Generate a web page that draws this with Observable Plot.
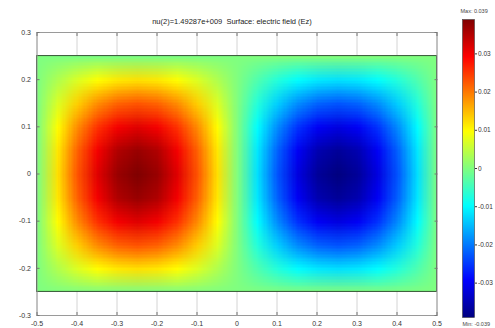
<!DOCTYPE html>
<html>
<head>
<meta charset="utf-8">
<script src="https://cdn.jsdelivr.net/npm/d3@7"></script>
<script src="https://cdn.jsdelivr.net/npm/@observablehq/plot@0.6"></script>
<style>
  html, body { margin: 0; padding: 0; background: #fff; }
  #chart { position: relative; width: 495px; height: 328px; overflow: hidden; font-family: "Liberation Sans", Arial, sans-serif; }
  #chart svg { position: absolute; top: 0; overflow: visible; }
</style>
</head>
<body>
<div id="chart"></div>
<script>
// Title of the plot
const titleText = "nu(2)=1.49287e+009  Surface: electric field (Ez)";

// Sample positions of the Ez field (nodes of the grid)
const xNodes = [-0.5, -0.45, -0.4, -0.35, -0.3, -0.25, -0.2, -0.15, -0.1, -0.05, 0,
                0.05, 0.1, 0.15, 0.2, 0.25, 0.3, 0.35, 0.4, 0.45, 0.5];
const yNodes = [0.25, 0.2, 0.15, 0.1, 0.05, 0, -0.05, -0.1, -0.15, -0.2, -0.25];

// Ez values, one row per yNode (top to bottom), one column per xNode
const ezRows = [
  [0, 0, 0, 0, 0, 0, 0, 0, 0, 0, 0, 0, 0, 0, 0, 0, 0, 0, 0, 0, 0],
  [0, 0.0037, 0.0071, 0.0098, 0.0115, 0.0121, 0.0115, 0.0098, 0.0071, 0.0037, 0, -0.0037, -0.0071, -0.0098, -0.0115, -0.0121, -0.0115, -0.0098, -0.0071, -0.0037, 0],
  [0, 0.0071, 0.0135, 0.0186, 0.0218, 0.0229, 0.0218, 0.0186, 0.0135, 0.0071, 0, -0.0071, -0.0135, -0.0186, -0.0218, -0.0229, -0.0218, -0.0186, -0.0135, -0.0071, 0],
  [0, 0.0098, 0.0186, 0.0255, 0.0300, 0.0316, 0.0300, 0.0255, 0.0186, 0.0098, 0, -0.0098, -0.0186, -0.0255, -0.0300, -0.0316, -0.0300, -0.0255, -0.0186, -0.0098, 0],
  [0, 0.0115, 0.0218, 0.0300, 0.0353, 0.0371, 0.0353, 0.0300, 0.0218, 0.0115, 0, -0.0115, -0.0218, -0.0300, -0.0353, -0.0371, -0.0353, -0.0300, -0.0218, -0.0115, 0],
  [0, 0.0121, 0.0229, 0.0316, 0.0371, 0.0390, 0.0371, 0.0316, 0.0229, 0.0121, 0, -0.0121, -0.0229, -0.0316, -0.0371, -0.0390, -0.0371, -0.0316, -0.0229, -0.0121, 0],
  [0, 0.0115, 0.0218, 0.0300, 0.0353, 0.0371, 0.0353, 0.0300, 0.0218, 0.0115, 0, -0.0115, -0.0218, -0.0300, -0.0353, -0.0371, -0.0353, -0.0300, -0.0218, -0.0115, 0],
  [0, 0.0098, 0.0186, 0.0255, 0.0300, 0.0316, 0.0300, 0.0255, 0.0186, 0.0098, 0, -0.0098, -0.0186, -0.0255, -0.0300, -0.0316, -0.0300, -0.0255, -0.0186, -0.0098, 0],
  [0, 0.0071, 0.0135, 0.0186, 0.0218, 0.0229, 0.0218, 0.0186, 0.0135, 0.0071, 0, -0.0071, -0.0135, -0.0186, -0.0218, -0.0229, -0.0218, -0.0186, -0.0135, -0.0071, 0],
  [0, 0.0037, 0.0071, 0.0098, 0.0115, 0.0121, 0.0115, 0.0098, 0.0071, 0.0037, 0, -0.0037, -0.0071, -0.0098, -0.0115, -0.0121, -0.0115, -0.0098, -0.0071, -0.0037, 0],
  [0, 0, 0, 0, 0, 0, 0, 0, 0, 0, 0, 0, 0, 0, 0, 0, 0, 0, 0, 0, 0]
];

// Extent of the computational domain (the rectangle)
const domainX = [-0.5, 0.5];
const domainY = [-0.25, 0.25];

// Axis ranges and tick values
const xAxisDomain = [-0.5, 0.5];
const yAxisDomain = [-0.3, 0.3];
const xTicks = [-0.5, -0.4, -0.3, -0.2, -0.1, 0, 0.1, 0.2, 0.3, 0.4, 0.5];
const yTicks = [-0.3, -0.2, -0.1, 0, 0.1, 0.2, 0.3];

// Colour bar range and ticks
const ezMax = 0.039;
const ezMin = -0.039;
const barTicks = [-0.03, -0.02, -0.01, 0, 0.01, 0.02, 0.03];

// Jet colour map stops (fractions of the range) and their colours
const jetStops = [0, 0.125, 0.375, 0.625, 0.875, 1];
const jetColors = ["#000080", "#0000ff", "#00ffff", "#ffff00", "#ff0000", "#800000"];

const colorScale = {
  type: "linear",
  domain: jetStops.map(t => ezMin + t * (ezMax - ezMin)),
  range: jetColors,
  interpolate: "rgb",
  clamp: true
};

const fmt = d => String(d);
const dxHalf = (xNodes[1] - xNodes[0]) / 2;
const dyHalf = (yNodes[0] - yNodes[1]) / 2;

const main = Plot.plot({
  width: 495,
  height: 328,
  marginLeft: 36.5,
  marginRight: 58.5,
  marginTop: 32,
  marginBottom: 13,
  style: { fontFamily: "Liberation Sans, Arial, sans-serif", fontSize: "7px", color: "#333", background: "transparent" },
  x: { domain: xAxisDomain, axis: null },
  y: { domain: yAxisDomain, axis: null },
  color: colorScale,
  marks: [
    Plot.gridX(xTicks, { stroke: "#d4d4d4", strokeOpacity: 1 }),
    Plot.gridY(yTicks, { stroke: "#d4d4d4", strokeOpacity: 1 }),
    Plot.raster(ezRows.flat(), {
      width: xNodes.length,
      height: yNodes.length,
      x1: xNodes[0] - dxHalf,
      x2: xNodes[xNodes.length - 1] + dxHalf,
      y1: yNodes[0] + dyHalf,
      y2: yNodes[yNodes.length - 1] - dyHalf,
      imageRendering: "auto"
    }),
    Plot.rect([0], {
      x1: domainX[0], x2: domainX[1], y1: domainY[0], y2: domainY[1],
      fill: "none", stroke: "#355535", strokeWidth: 1
    }),
    Plot.frame({ stroke: "#9a9a9a" }),
    Plot.axisX({ anchor: "bottom", ticks: xTicks, tickFormat: fmt, tickSize: -3, tickPadding: 9, stroke: "#777" }),
    Plot.axisX({ anchor: "top", ticks: xTicks, tickFormat: () => "", tickSize: -3, stroke: "#777" }),
    Plot.axisY({ anchor: "left", ticks: yTicks, tickFormat: fmt, tickSize: -3, tickPadding: 9, stroke: "#777" }),
    Plot.axisY({ anchor: "right", ticks: yTicks, tickFormat: () => "", tickSize: -3, stroke: "#777" }),
    Plot.text([titleText], { frameAnchor: "top", dy: -14, dx: -5, fontSize: 7.5, fill: "#222" })
  ]
});

// Keep the field inside the rectangular domain
{
  const sx = main.scale("x"), sy = main.scale("y");
  const ns = "http://www.w3.org/2000/svg";
  const rasterG = main.querySelector('g[aria-label="raster"]');
  if (rasterG) {
    const defs = document.createElementNS(ns, "defs");
    const cp = document.createElementNS(ns, "clipPath");
    cp.setAttribute("id", "domain-clip");
    const r = document.createElementNS(ns, "rect");
    const x0 = sx.apply(domainX[0]), x1 = sx.apply(domainX[1]);
    const y0 = sy.apply(domainY[1]), y1 = sy.apply(domainY[0]);
    r.setAttribute("x", x0); r.setAttribute("y", y0);
    r.setAttribute("width", x1 - x0); r.setAttribute("height", y1 - y0);
    cp.appendChild(r); defs.appendChild(cp);
    main.insertBefore(defs, main.firstChild);
    const wrap = document.createElementNS(ns, "g");
    wrap.setAttribute("clip-path", "url(#domain-clip)");
    rasterG.parentNode.insertBefore(wrap, rasterG);
    wrap.appendChild(rasterG);
  }
}

// Colour bar
const bar = Plot.plot({
  width: 55,
  height: 328,
  marginLeft: 22,
  marginRight: 21,
  marginTop: 19,
  marginBottom: 11,
  style: { fontFamily: "Liberation Sans, Arial, sans-serif", fontSize: "6.5px", color: "#333", background: "transparent" },
  x: { domain: [0, 1], axis: null },
  y: { domain: [ezMin, ezMax], axis: null },
  color: colorScale,
  marks: [
    Plot.raster({ x1: 0, x2: 1, y1: ezMin, y2: ezMax, fill: (x, y) => y, pixelSize: 1 }),
    Plot.frame({ stroke: "#444", strokeWidth: 0.6 }),
    Plot.axisY({ anchor: "right", ticks: barTicks, tickFormat: fmt, tickSize: 2, tickPadding: 1.5, stroke: "#333" }),
    Plot.text([`Max: ${ezMax}`], { frameAnchor: "top-left", dy: -10, dx: -2, textAnchor: "start", fontSize: 5.5, fill: "#444" }),
    Plot.text([`Min: ${ezMin}`], { frameAnchor: "bottom-left", dy: 8, dx: 0, textAnchor: "start", fontSize: 5.5, fill: "#444" })
  ]
});

const chart = document.getElementById("chart");
main.style.left = "0px";
bar.style.left = "440px";
chart.appendChild(main);
chart.appendChild(bar);
</script>
</body>
</html>
